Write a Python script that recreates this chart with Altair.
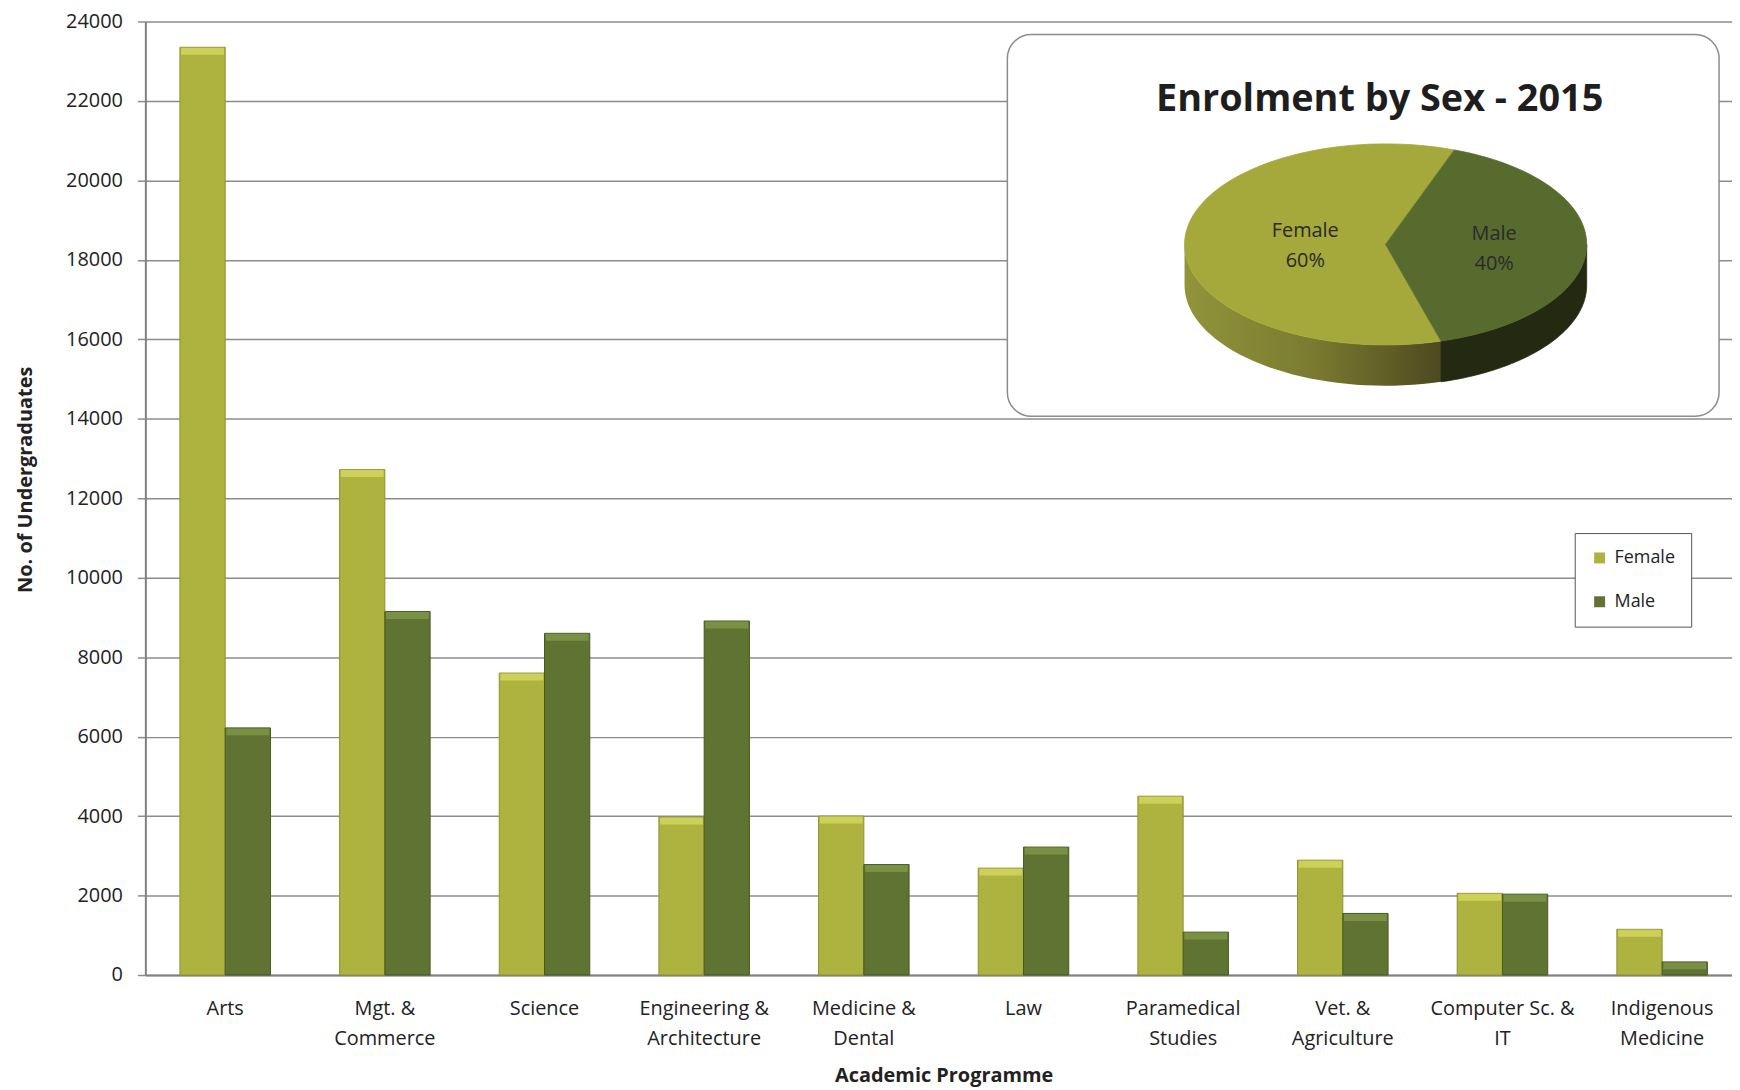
import altair as alt
import pandas as pd

# ---------------- data ----------------
categories = ["Arts", "Mgt. &\nCommerce", "Science", "Engineering &\nArchitecture",
              "Medicine &\nDental", "Law", "Paramedical\nStudies", "Vet. &\nAgriculture",
              "Computer Sc. &\nIT", "Indigenous\nMedicine"]
female = [23350, 12720, 7600, 3975, 4000, 2690, 4500, 2890, 2055, 1150]
male = [6220, 9150, 8600, 8910, 2780, 3220, 1080, 1550, 2035, 330]
series = ["Female", "Male"]
y_ticks = list(range(0, 24001, 2000))

pie_sexes = ["Female", "Male"]
pie_shares = [60, 40]
pie_title = "Enrolment  by Sex - 2015"

# ---------------- style ----------------
FONT = "Open Sans"
F_COL, M_COL = "#AEB23E", "#5F7432"
F_EDGE, M_EDGE = "#8E9231", "#485A24"
F_BEVEL, M_BEVEL = "#CDD15A", "#7A9145"
GRID = "#8C8C8C"
TXT = "#222222"

rows = []
for c, f, m in zip(categories, female, male):
    rows.append({"programme": c, "sex": "Female", "count": f})
    rows.append({"programme": c, "sex": "Male", "count": m})
bar_df = pd.DataFrame(rows)

x_enc = alt.X(
    "programme:N", sort=categories,
    scale=alt.Scale(range=[0, 1604], paddingInner=0.433, paddingOuter=0.2165),
    axis=alt.Axis(title="Academic Programme", labelExpr="split(datum.label, '\\n')",
                  labelAngle=0, labelFontSize=20, labelFont=FONT, labelColor=TXT,
                  labelLineHeight=30, labelPadding=24, ticks=False, tickSize=0,
                  domainColor="#808080", domainWidth=2,
                  titleFont=FONT, titleFontSize=20, titleFontWeight="bold", titleColor=TXT,
                  titleY=101, titleBaseline="middle", grid=False))
xoff_enc = alt.XOffset("sex:N", sort=series, scale=alt.Scale(paddingInner=0, paddingOuter=0))
y_enc = alt.Y(
    "count:Q", scale=alt.Scale(domain=[0, 24000], nice=False),
    axis=alt.Axis(values=y_ticks, format="d", title="No. of Undergraduates",
                  labelFontSize=20, labelFont=FONT, labelColor=TXT, labelPadding=15,
                  tickSize=8, tickColor=GRID, tickWidth=1.5,
                  domainColor="#808080", domainWidth=2,
                  gridColor=GRID, gridWidth=1.5,
                  titleFont=FONT, titleFontSize=20, titleFontWeight="bold", titleColor=TXT,
                  titleX=-120, titleY=460, titleAlign="center", titleBaseline="middle",
                  titleAngle=270))

bars = alt.Chart(bar_df).mark_bar(strokeWidth=1).encode(
    x=x_enc, xOffset=xoff_enc, y=y_enc,
    color=alt.Color("sex:N", sort=series,
                    scale=alt.Scale(domain=series, range=[F_COL, M_COL]),
                    legend=alt.Legend(title=None, orient="none", legendX=1436, legendY=514,
                                      padding=16, strokeColor="#555555", fillColor="white",
                                      rowPadding=26, labelFontSize=18, labelFont=FONT,
                                      labelColor=TXT, symbolType="square", symbolSize=121,
                                      labelOffset=6, symbolStrokeWidth=0)),
    stroke=alt.Stroke("sex:N", sort=series,
                      scale=alt.Scale(domain=series, range=[F_EDGE, M_EDGE]), legend=None),
)

bevel_f = alt.Chart(bar_df).transform_filter("datum.sex == 'Female'").mark_tick(
    color=F_BEVEL, thickness=7, size=43, yOffset=4, opacity=1).encode(
    x=x_enc, xOffset=xoff_enc, y=y_enc)
bevel_m = alt.Chart(bar_df).transform_filter("datum.sex == 'Male'").mark_tick(
    color=M_BEVEL, thickness=7, size=43, yOffset=4, opacity=1).encode(
    x=x_enc, xOffset=xoff_enc, y=y_enc)

bar_layer = alt.layer(bars, bevel_f, bevel_m)

# ---------------- inset 3-D pie ----------------
pie_df = pd.DataFrame({"sex": pie_sexes, "share": pie_shares})
title_df = pd.DataFrame({"title": [pie_title]})

START = 164      # angle of first slice (deg, clockwise from top)
DEPTH = 0.406    # side thickness in ellipse units
N = 72
M = 40

px = alt.Scale(domain=[-1, 1], range=[1044, 1448], nice=False, zero=False)
py = alt.Scale(domain=[-1, 1], range=[325, 123], nice=False, zero=False)

pie_base = (alt.Chart(pie_df)
            .transform_joinaggregate(total="sum(share)")
            .transform_window(cum="sum(share)", frame=[None, 0])
            .transform_calculate(a0=f"{START} + (datum.cum - datum.share) / datum.total * 360")
            .transform_calculate(a1=f"{START} + datum.cum / datum.total * 360"))

top = (pie_base
       .transform_calculate(idx=f"sequence(0, {N + 2})")
       .transform_flatten(["idx"])
       .transform_calculate(ang=f"(datum.a0 + (datum.a1 - datum.a0) * (datum.idx - 1) / {N}) * PI / 180")
       .transform_calculate(u="datum.idx == 0 ? 0 : sin(datum.ang)")
       .transform_calculate(v="datum.idx == 0 ? 0 : cos(datum.ang)"))

side = (pie_base
        .transform_calculate(b0="datum.a0 % 360")
        .transform_calculate(s="max(datum.b0, 90)")
        .transform_calculate(e="min(datum.b0 + datum.a1 - datum.a0, 270)")
        .transform_filter("datum.s < datum.e")
        .transform_calculate(idx=f"sequence(0, {2 * M})")
        .transform_flatten(["idx"])
        .transform_calculate(k=f"datum.idx < {M} ? datum.idx / {M - 1} : ({2 * M - 1} - datum.idx) / {M - 1}")
        .transform_calculate(ang="(datum.s + (datum.e - datum.s) * datum.k) * PI / 180")
        .transform_calculate(u="sin(datum.ang)")
        .transform_calculate(v=f"cos(datum.ang) - (datum.idx < {M} ? 0 : {DEPTH})"))

pie_enc = dict(x=alt.X("u:Q", scale=px, axis=None),
               y=alt.Y("v:Q", scale=py, axis=None),
               order=alt.Order("idx:Q"))

side_grad = alt.LinearGradient(
    gradient="linear", x1=0, y1=0, x2=1, y2=0,
    stops=[alt.GradientStop(color="#91943A", offset=0),
           alt.GradientStop(color="#7A7B30", offset=0.5),
           alt.GradientStop(color="#4E4920", offset=1)])

side_f = side.transform_filter("datum.sex == 'Female'").mark_line(
    fill=side_grad, strokeOpacity=0, interpolate="linear-closed").encode(**pie_enc)
side_m = side.transform_filter("datum.sex == 'Male'").mark_line(
    fill="#242A12", stroke="#242A12", strokeWidth=0.8, interpolate="linear-closed").encode(**pie_enc)
top_f = top.transform_filter("datum.sex == 'Female'").mark_line(
    fill="#A5A83A", stroke="#A5A83A", strokeWidth=0.8, interpolate="linear-closed").encode(**pie_enc)
top_m = top.transform_filter("datum.sex == 'Male'").mark_line(
    fill="#586B2E", stroke="#586B2E", strokeWidth=0.8, interpolate="linear-closed").encode(**pie_enc)

pie_labels = (pie_base
              .transform_calculate(mid="((datum.a0 + datum.a1) / 2) * PI / 180")
              .transform_calculate(u="0.47 * sin(datum.mid) + 0.07")
              .transform_calculate(v="0.47 * cos(datum.mid) - 0.03")
              .transform_calculate(label="datum.sex + '\\n' + format(datum.share / datum.total, '.0%')")
              .mark_text(lineBreak="\n", fontSize=20, lineHeight=30, font=FONT, color="#2A2A2A",
                         align="center", baseline="middle", dy=-15)
              .encode(x=alt.X("u:Q", scale=px, axis=None),
                      y=alt.Y("v:Q", scale=py, axis=None),
                      text="label:N"))

box = alt.Chart(title_df).mark_rect(
    cornerRadius=24, fill="white", stroke="#8C8C8C", strokeWidth=1.5).encode(
    x=alt.value(866), x2=alt.value(1581), y=alt.value(13.2), y2=alt.value(396.7))

inset_title = alt.Chart(title_df).mark_text(
    font=FONT, fontSize=38, fontWeight="bold", color="#1E1E1E",
    align="center", baseline="middle").encode(
    x=alt.value(1240), y=alt.value(78.7), text="title:N")

pie_layer = alt.layer(box, inset_title, side_f, side_m, top_f, top_m, pie_labels)

chart = (alt.layer(bar_layer, pie_layer)
         .resolve_scale(x="independent", y="independent")
         .properties(width=1592, height=958,
                     padding={"left": 138, "top": 11, "right": 2, "bottom": 112},
                     autosize=alt.AutoSizeParams(type="none"),
                     background="white")
         .configure_view(stroke=None))

chart.save("out.html", embed_options={"renderer": "svg", "actions": False})
